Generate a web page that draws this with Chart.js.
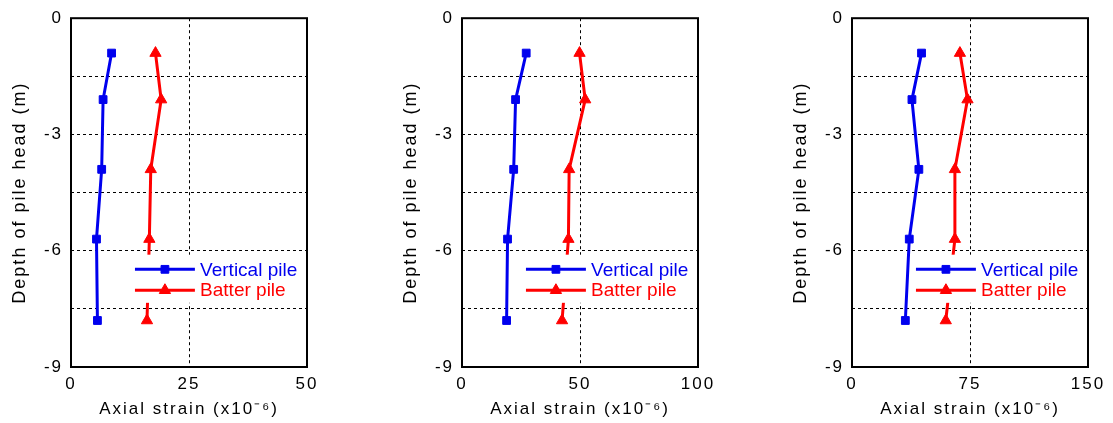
<!DOCTYPE html>
<html>
<head>
<meta charset="utf-8">
<script src="https://cdn.jsdelivr.net/npm/chart.js"></script>
<style>
body { margin: 0; background: #fff; }
#wrap { position: relative; width: 1113px; height: 423px; }
canvas { position: absolute; top: 0; }
</style>
</head>
<body>
<div id="wrap">
  <canvas id="c1" width="330" height="423" style="left:0px"></canvas>
  <canvas id="c2" width="330" height="423" style="left:391px"></canvas>
  <canvas id="c3" width="330" height="423" style="left:781px"></canvas>
</div>
<script>
// depth below pile head (m), same for every panel
var depth = [-0.9, -2.1, -3.9, -5.7, -7.8];

// axial strain (x10^-6)
var vertical1 = [8.6, 6.8, 6.5, 5.4, 5.6];
var batter1   = [17.9, 19.1, 16.9, 16.6, 16.1];
var vertical2 = [27.2, 22.7, 21.9, 19.3, 18.9];
var batter2   = [49.8, 52.2, 45.4, 45.1, 42.4];
var vertical3 = [44.2, 38.1, 42.5, 36.4, 33.9];
var batter3   = [68.6, 73.4, 65.4, 65.4, 59.6];

var xTicks = [[0, 25, 50], [0, 50, 100], [0, 75, 150]];
var yLabelled = [0, -3, -6, -9];
var seriesNames = ['Vertical pile', 'Batter pile'];

Chart.defaults.font.family = '"Liberation Sans", Arial, sans-serif';
Chart.defaults.color = '#000';

var frame = {
  id: 'frame',
  beforeDraw: function (chart) {
    chart.ctx.letterSpacing = '2px';
  },
  afterDatasetsDraw: function (chart) {
    // legend sitting inside the plot on a white patch
    var a = chart.chartArea, w = a.right - a.left, h = a.bottom - a.top;
    var ctx = chart.ctx;
    ctx.save();
    ctx.letterSpacing = '0px';
    ctx.fillStyle = '#fff';
    ctx.fillRect(a.left + 0.267 * w, a.top + 0.678 * h, 0.713 * w, 0.138 * h);
    chart.data.datasets.forEach(function (ds, k) {
      var y = a.top + (0.72 + 0.06 * k) * h;
      var x0 = a.left + 0.271 * w, x1 = a.left + 0.525 * w;
      ctx.strokeStyle = ds.borderColor;
      ctx.fillStyle = ds.borderColor;
      ctx.lineWidth = ds.borderWidth;
      ctx.beginPath();
      ctx.moveTo(x0, y);
      ctx.lineTo(x1, y);
      ctx.stroke();
      ctx.lineWidth = 1;
      Chart.helpers.drawPoint(ctx, {pointStyle: ds.pointStyle, radius: ds.pointRadius, rotation: 0, borderWidth: 1}, (x0 + x1) / 2, y);
      ctx.font = '19px "Liberation Sans", Arial, sans-serif';
      ctx.textBaseline = 'middle';
      ctx.textAlign = 'left';
      ctx.fillText(ds.label, a.left + 0.547 * w, y + 1);
    });
    ctx.restore();
  },
  afterDraw: function (chart) {
    var a = chart.chartArea, ctx = chart.ctx;
    ctx.save();
    ctx.strokeStyle = '#000';
    ctx.lineWidth = 2;
    ctx.strokeRect(a.left, a.top, a.right - a.left, a.bottom - a.top);
    ctx.restore();
  }
};

function makeChart(id, vert, batt, ticks) {
  var xmax = ticks[ticks.length - 1];
  return new Chart(document.getElementById(id), {
    type: 'line',
    data: {
      datasets: [{
        label: seriesNames[0],
        data: depth.map(function (d, k) { return {x: vert[k], y: d}; }),
        borderColor: '#0000ee',
        backgroundColor: '#0000ee',
        borderWidth: 3,
        pointStyle: 'rect',
        pointRadius: 5.5,
        pointBorderWidth: 1
      }, {
        label: seriesNames[1],
        data: depth.map(function (d, k) { return {x: batt[k], y: d}; }),
        borderColor: '#ff0000',
        backgroundColor: '#ff0000',
        borderWidth: 3,
        pointStyle: 'triangle',
        pointRadius: 6.5,
        pointBorderWidth: 1
      }]
    },
    options: {
      responsive: false,
      animation: false,
      layout: {padding: {left: 0, top: 13, right: 23, bottom: 0}},
      plugins: {legend: {display: false}, tooltip: {enabled: false}},
      scales: {
        x: {
          type: 'linear',
          min: 0,
          max: xmax,
          afterBuildTicks: function (s) { s.ticks = ticks.map(function (v) { return {value: v}; }); },
          afterFit: function (s) { s.height = 56; },
          ticks: {font: {size: 17}, padding: 7, maxRotation: 0},
          grid: {color: '#000', lineWidth: 1, drawTicks: false},
          border: {display: false, dash: [3, 3]},
          title: {display: true, text: 'Axial strain (x10\u207B\u2076)', font: {size: 17}, padding: {top: 0, bottom: 3}}
        },
        y: {
          type: 'linear',
          min: -9,
          max: 0,
          ticks: {
            stepSize: 1.5,
            font: {size: 17},
            padding: 8,
            callback: function (v) { return yLabelled.indexOf(v) >= 0 ? String(v) : ''; }
          },
          afterFit: function (s) { s.width = 71; },
          grid: {color: '#000', lineWidth: 1, drawTicks: false},
          border: {display: false, dash: [3, 3]},
          title: {display: true, text: 'Depth of pile head (m)', font: {size: 18}, padding: {top: 9, bottom: 0}}
        }
      }
    },
    plugins: [frame]
  });
}

makeChart('c1', vertical1, batter1, xTicks[0]);
makeChart('c2', vertical2, batter2, xTicks[1]);
makeChart('c3', vertical3, batter3, xTicks[2]);
</script>
</body>
</html>
